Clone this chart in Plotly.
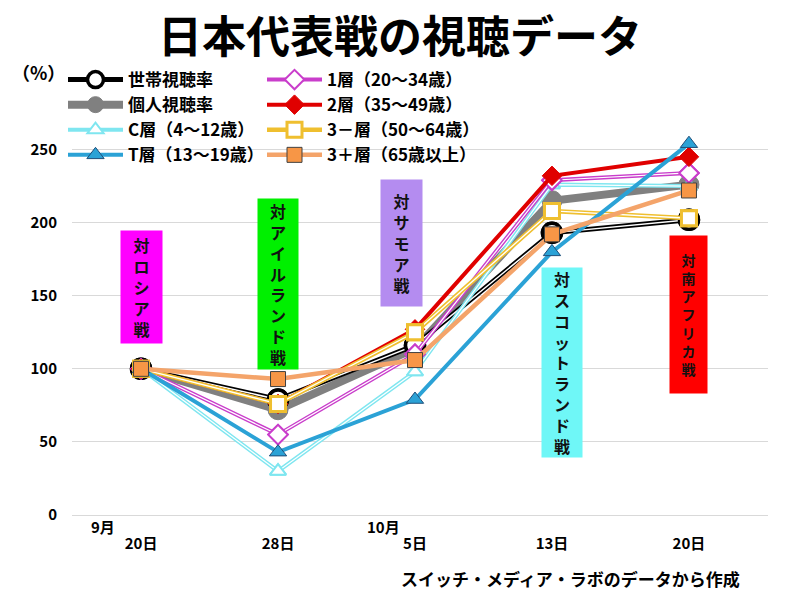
import plotly.graph_objects as go

# ---- data ----
dates = ["20日", "28日", "5日", "13日", "20日"]
months = ["9月", "10月"]
household = [100, 79, 116, 193, 202]      # 世帯視聴率
individual = [100, 72, 114, 215, 226]     # 個人視聴率
c_layer = [100, 30, 98, 226, 225]         # C層（4～12歳）
t_layer = [100, 43, 79, 180, 254]         # T層（13～19歳）
layer1 = [100, 55, 110, 229, 234]         # 1層（20～34歳）
layer2 = [100, 76, 127, 232, 245]         # 2層（35～49歳）
layer3m = [100, 76, 125, 208, 203]        # 3－層（50～64歳）
layer3p = [100, 93, 106, 192, 222]        # 3＋層（65歳以上）
matches = ["対ロシア戦", "対アイルランド戦", "対サモア戦", "対スコットランド戦", "対南アフリカ戦"]
y_ticks = [0, 50, 100, 150, 200, 250]

x_idx = list(range(len(dates)))
FONT = "Noto Sans CJK JP, Noto Sans, sans-serif"

# plot geometry: 0 at 515px, 250 at 150px
PX_PER_UNIT = 365 / 250
Y_TOP = 262
top_margin = 150 - (Y_TOP - 250) * PX_PER_UNIT
PLOT_H = 515 - top_margin

fig = go.Figure()

def add_series(name, ys, color, lw, symbol, msize, mfill, mline_color, mline_w,
               legend, hollow=False):
    fig.add_trace(go.Scatter(
        x=x_idx, y=ys, name=name, mode="lines+markers", legend=legend,
        legendgroup=name,
        line=dict(color=color, width=lw),
        marker=dict(symbol=symbol, size=msize, color=mfill,
                    line=dict(color=mline_color, width=mline_w)),
        cliponaxis=False, hoverinfo="skip"))
    if hollow:
        fig.add_trace(go.Scatter(
            x=x_idx, y=ys, mode="lines", showlegend=False,
            line=dict(color="white", width=max(1.2, lw * 0.3)),
            cliponaxis=False, hoverinfo="skip"))
        fig.add_trace(go.Scatter(
            x=x_idx, y=ys, mode="markers", showlegend=False,
            marker=dict(symbol=symbol, size=msize, color=mfill,
                        line=dict(color=mline_color, width=mline_w)),
            cliponaxis=False, hoverinfo="skip"))

# draw order (bottom to top)
add_series("個人視聴率", individual, "#808080", 8, "circle", 20, "#808080", "#808080", 1, "legend")
add_series("世帯視聴率", household, "#000000", 5, "circle", 19, "white", "#000000", 3.5, "legend", hollow=True)
add_series("C層（4～12歳）", c_layer, "#7FE6F0", 4, "triangle-up", 14, "white", "#7FE6F0", 2, "legend", hollow=True)
add_series("1層（20～34歳）", layer1, "#C93DCB", 4, "diamond", 15, "white", "#C93DCB", 2, "legend2", hollow=True)
add_series("2層（35～49歳）", layer2, "#E00000", 4, "diamond", 15, "#E00000", "#E00000", 1, "legend2")
add_series("3－層（50～64歳）", layer3m, "#EFBF2F", 4.5, "square", 15, "white", "#EFBF2F", 3, "legend2", hollow=True)
add_series("T層（13～19歳）", t_layer, "#2BA2D6", 4, "triangle-up", 15, "#2BA2D6", "#1F4E79", 1, "legend")
add_series("3＋層（65歳以上）", layer3p, "#F4A46A", 4.5, "square", 15, "#F79646", "#404040", 1, "legend2")

# order legend entries
ranks = {"世帯視聴率": 1, "個人視聴率": 2, "C層（4～12歳）": 3, "T層（13～19歳）": 4,
         "1層（20～34歳）": 1, "2層（35～49歳）": 2, "3－層（50～64歳）": 3, "3＋層（65歳以上）": 4}
for tr in fig.data:
    if tr.name in ranks:
        tr.legendrank = ranks[tr.name]

# match label boxes: (x center in data, y center in data, width px, height px, bg, font size)
box_style = [
    (0.0, 156, 41, 112, "#FF00FF", 16),
    (1.0, 158, 40, 170, "#00F000", 16),
    (1.9, 186, 41, 126, "#B48CF0", 16),
    (3.07, 104, 40, 189, "#6FF7F7", 16),
    (4.0, 137, 37, 157, "#FF0000", 14),
]
for label, (bx, by, bw, bh, bg, fs) in zip(matches, box_style):
    fig.add_annotation(
        x=bx, y=by, xref="x", yref="y", text="<br>".join(list(label)),
        showarrow=False, bgcolor=bg, width=bw, height=bh, borderpad=0,
        font=dict(family=FONT, size=fs, color="#111111", weight="bold"),
        align="center", valign="middle")

# month labels
for m, mx in zip(months, [-0.28, 1.77]):
    fig.add_annotation(x=mx, y=-11 / PLOT_H, xref="x", yref="y domain", text=m,
                       showarrow=False, xanchor="center", yanchor="middle",
                       font=dict(family=FONT, size=15, color="black", weight="bold"))

# unit label
fig.add_annotation(x=(38 - 72) / 696, y=(515 - 73) / PLOT_H,
                   xref="x domain", yref="y domain",
                   text="（%）", showarrow=False, xanchor="center", yanchor="middle",
                   font=dict(family=FONT, size=18, color="black", weight="bold"))

# source
fig.add_annotation(x=(742 - 72) / 696, y=(515 - 578) / PLOT_H,
                   xref="x domain", yref="y domain",
                   text="スイッチ・メディア・ラボのデータから作成", showarrow=False,
                   xanchor="right", yanchor="middle",
                   font=dict(family=FONT, size=17, color="black", weight="bold"))

legend_common = dict(xref="container", yref="container", xanchor="left", yanchor="top",
                     bgcolor="rgba(0,0,0,0)", itemwidth=55, tracegroupgap=4,
                     traceorder="normal",
                     font=dict(family=FONT, size=17, color="black", weight="bold"))

fig.update_layout(
    width=800, height=600,
    margin=dict(l=72, r=32, t=top_margin, b=85, autoexpand=False),
    paper_bgcolor="white", plot_bgcolor="white",
    font=dict(family=FONT, color="black"),
    title=dict(text="日本代表戦の視聴データ", x=0.5, xanchor="center",
               y=1 - 38 / 600, yanchor="middle",
               font=dict(family=FONT, size=44, color="black", weight="bold")),
    xaxis=dict(range=[-0.504, 4.577], tickvals=x_idx, ticktext=dates,
               showgrid=False, zeroline=False, showline=False, ticks="",
               ticklabelstandoff=18,
               tickfont=dict(family=FONT, size=15, color="black", weight="bold")),
    yaxis=dict(range=[0, Y_TOP], tickvals=y_ticks, showgrid=True, gridcolor="#D9D9D9",
               gridwidth=1, zeroline=True, zerolinecolor="#D9D9D9", zerolinewidth=1,
               showline=False, ticks="", ticklabelstandoff=14,
               tickfont=dict(family=FONT, size=15, color="black", weight="bold")),
    legend=dict(x=63 / 800, y=1 - 62 / 600, **legend_common),
    legend2=dict(x=262 / 800, y=1 - 62 / 600, **legend_common),
    showlegend=True,
)

fig.write_html("out.html")
